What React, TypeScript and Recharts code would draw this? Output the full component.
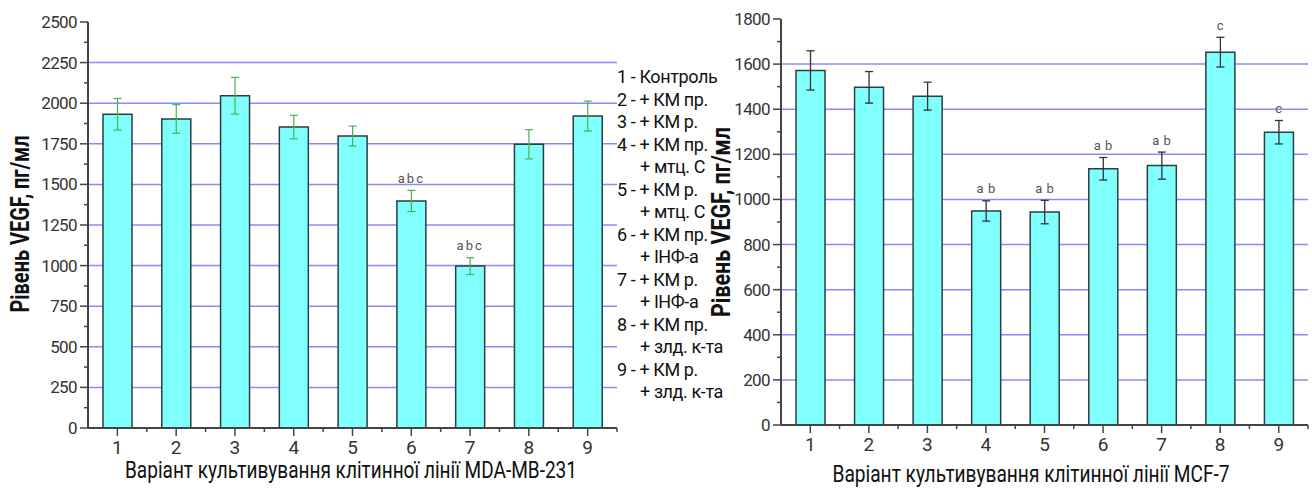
import React from 'react';
import { BarChart, Bar, ErrorBar, XAxis, YAxis, CartesianGrid, LabelList } from 'recharts';

const categories = ['1', '2', '3', '4', '5', '6', '7', '8', '9'];

// MDA-MB-231
const mdaValues = [1932, 1903, 2046, 1853, 1798, 1398, 997, 1747, 1921];
const mdaErrors = [97, 88, 113, 72, 61, 65, 52, 90, 92];
const mdaSig = ['', '', '', '', '', 'abc', 'abc', '', ''];
const mdaTicks = [0, 250, 500, 750, 1000, 1250, 1500, 1750, 2000, 2250, 2500];

// MCF-7
const mcfValues = [1572, 1497, 1458, 949, 944, 1136, 1150, 1653, 1298];
const mcfErrors = [87, 70, 62, 45, 52, 50, 60, 66, 52];
const mcfSig = ['', '', '', 'a b', 'a b', 'a b', 'a b', 'c', 'c'];
const mcfTicks = [0, 200, 400, 600, 800, 1000, 1200, 1400, 1600, 1800];

const legendLines = [
  '1 - Контроль',
  '2 - + КМ пр.',
  '3 - + КМ р.',
  '4 - + КМ пр.',
  '+ мтц. С',
  '5 - + КМ р.',
  '+ мтц. С',
  '6 - + КМ пр.',
  '+ ІНФ-а',
  '7 - + КМ р.',
  '+ ІНФ-а',
  '8 - + КМ пр.',
  '+ злд. к-та',
  '9 - + КМ р.',
  '+ злд. к-та',
];

const FONT = 'Roboto, "Liberation Sans", sans-serif';
const axisColor = '#444';
const gridColor = '#8a8aff';

const withMinor = (majors: number[]) => {
  const out: number[] = [];
  majors.forEach((v, i) => {
    out.push(v);
    if (i < majors.length - 1) out.push((v + majors[i + 1]) / 2);
  });
  return out;
};

const buildRows = (values: number[], errors: number[]) =>
  categories.map((name, i) => ({ name, value: values[i], err: errors[i] }));

const makeYTick = (majors: number[]) => (props: any) => {
  const { x, y, payload } = props;
  const major = majors.includes(payload.value);
  return (
    <g>
      <line x1={x - (major ? 8 : 4)} x2={x} y1={y} y2={y} stroke={axisColor} strokeWidth={1.5} />
      {major && (
        <text x={x - 11} y={y} dy={6} textAnchor="end" fontSize={17} fill="#333" fontFamily={FONT} letterSpacing={-0.6}>
          {payload.value}
        </text>
      )}
    </g>
  );
};

const makeXTick = (band: number) => (props: any) => {
  const { x, y, payload } = props;
  return (
    <g>
      <line x1={x} x2={x} y1={y} y2={y + 8} stroke={axisColor} strokeWidth={1.5} />
      <line x1={x + band / 2} x2={x + band / 2} y1={y} y2={y + 4} stroke={axisColor} strokeWidth={1.5} />
      <text x={x} y={y + 26} textAnchor="middle" fontSize={19} fill="#333" fontFamily={FONT}>
        {payload.value}
      </text>
    </g>
  );
};

const makeSigLabel = (values: number[], errors: number[], sigs: string[], spacing: number) => (props: any) => {
  const { x, y, width, height, index } = props;
  const sig = sigs[index];
  if (!sig) return null;
  const errPx = (errors[index] * Number(height)) / values[index];
  return (
    <text
      x={Number(x) + Number(width) / 2}
      y={Number(y) - errPx - 12}
      dy={4.5}
      textAnchor="middle"
      fontSize={13}
      fill="#555"
      fontFamily={FONT}
      letterSpacing={spacing}
    >
      {sig}
    </text>
  );
};

const yTitle = (cx: number, cy: number, len: number) => () => (
  <text
    x={cx}
    y={cy}
    transform={`rotate(-90 ${cx} ${cy})`}
    textAnchor="middle"
    dy={9}
    fontSize={26}
    fontWeight="bold"
    fill="#111"
    fontFamily={FONT}
    textLength={len}
    lengthAdjust="spacingAndGlyphs"
  >
    Рівень VEGF, пг/мл
  </text>
);

const xTitle = (text: string, cx: number, baseline: number, len: number) => () => (
  <text
    x={cx}
    y={baseline}
    textAnchor="middle"
    fontSize={23}
    fill="#111"
    fontFamily={FONT}
    textLength={len}
    lengthAdjust="spacingAndGlyphs"
  >
    {text}
  </text>
);

const App: React.FC = () => {
  const mdaRows = buildRows(mdaValues, mdaErrors);
  const mcfRows = buildRows(mcfValues, mcfErrors);

  return (
    <div style={{ position: 'absolute', left: 0, top: 0, width: 1312, height: 489, background: '#fff' }}>
      <div style={{ position: 'absolute', left: 0, top: 0 }}>
        <BarChart width={700} height={489} data={mdaRows} margin={{ top: 22, right: 83, left: 28, bottom: 21 }} barSize={29}>
          <CartesianGrid vertical={false} horizontalValues={mdaTicks.slice(1, -1)} stroke={gridColor} strokeWidth={1.5} />
          <XAxis
            dataKey="name"
            height={40}
            interval={0}
            tickSize={0}
            tickMargin={0}
            tickLine={false}
            axisLine={{ stroke: axisColor, strokeWidth: 2 }}
            tick={makeXTick(529 / categories.length)}
            label={{ content: xTitle('Варіант культивування клітинної лінії MDA-MB-231', 351, 478, 452) }}
          />
          <YAxis
            width={60}
            domain={[0, 2500]}
            ticks={withMinor(mdaTicks)}
            interval={0}
            tickSize={0}
            tickMargin={0}
            tickLine={false}
            axisLine={{ stroke: axisColor, strokeWidth: 2 }}
            tick={makeYTick(mdaTicks)}
            label={{ content: yTitle(20, 224, 177) }}
          />
          <Bar dataKey="value" fill="#80ffff" stroke="#2e3e3e" strokeWidth={1.5} isAnimationActive={false}>
            <ErrorBar dataKey="err" width={4} stroke="#4cb050" strokeWidth={1.2} isAnimationActive={false} />
            <LabelList dataKey="value" content={makeSigLabel(mdaValues, mdaErrors, mdaSig, 2)} />
          </Bar>
        </BarChart>
      </div>

      <div style={{ position: 'absolute', left: 700, top: 0 }}>
        <BarChart width={612} height={489} data={mcfRows} margin={{ top: 19, right: 4, left: 21, bottom: 24 }} barSize={29}>
          <CartesianGrid vertical={false} horizontalValues={mcfTicks.slice(1, -1)} stroke={gridColor} strokeWidth={1.5} />
          <XAxis
            dataKey="name"
            height={40}
            interval={0}
            tickSize={0}
            tickMargin={0}
            tickLine={false}
            axisLine={{ stroke: axisColor, strokeWidth: 2 }}
            tick={makeXTick(527 / categories.length)}
            label={{ content: xTitle('Варіант культивування клітинної лінії MCF-7', 331, 482, 397) }}
          />
          <YAxis
            width={60}
            domain={[0, 1800]}
            ticks={withMinor(mcfTicks)}
            interval={0}
            tickSize={0}
            tickMargin={0}
            tickLine={false}
            axisLine={{ stroke: axisColor, strokeWidth: 2 }}
            tick={makeYTick(mcfTicks)}
            label={{ content: yTitle(21, 222, 190) }}
          />
          <Bar dataKey="value" fill="#80ffff" stroke="#2e3e3e" strokeWidth={1.5} isAnimationActive={false}>
            <ErrorBar dataKey="err" width={4} stroke="#333" strokeWidth={1.3} isAnimationActive={false} />
            <LabelList dataKey="value" content={makeSigLabel(mcfValues, mcfErrors, mcfSig, 0.5)} />
          </Bar>
        </BarChart>
      </div>

      <svg width={1312} height={489} style={{ position: 'absolute', left: 0, top: 0, pointerEvents: 'none' }}>
        {legendLines.map((line, i) => (
          <text
            key={i}
            x={line.startsWith('+') ? 640 : 617}
            y={83 + i * 22.5}
            fontSize={18}
            fill="#111"
            fontFamily={FONT}
            letterSpacing={-0.4}
          >
            {line}
          </text>
        ))}
      </svg>
    </div>
  );
};

export default App;
